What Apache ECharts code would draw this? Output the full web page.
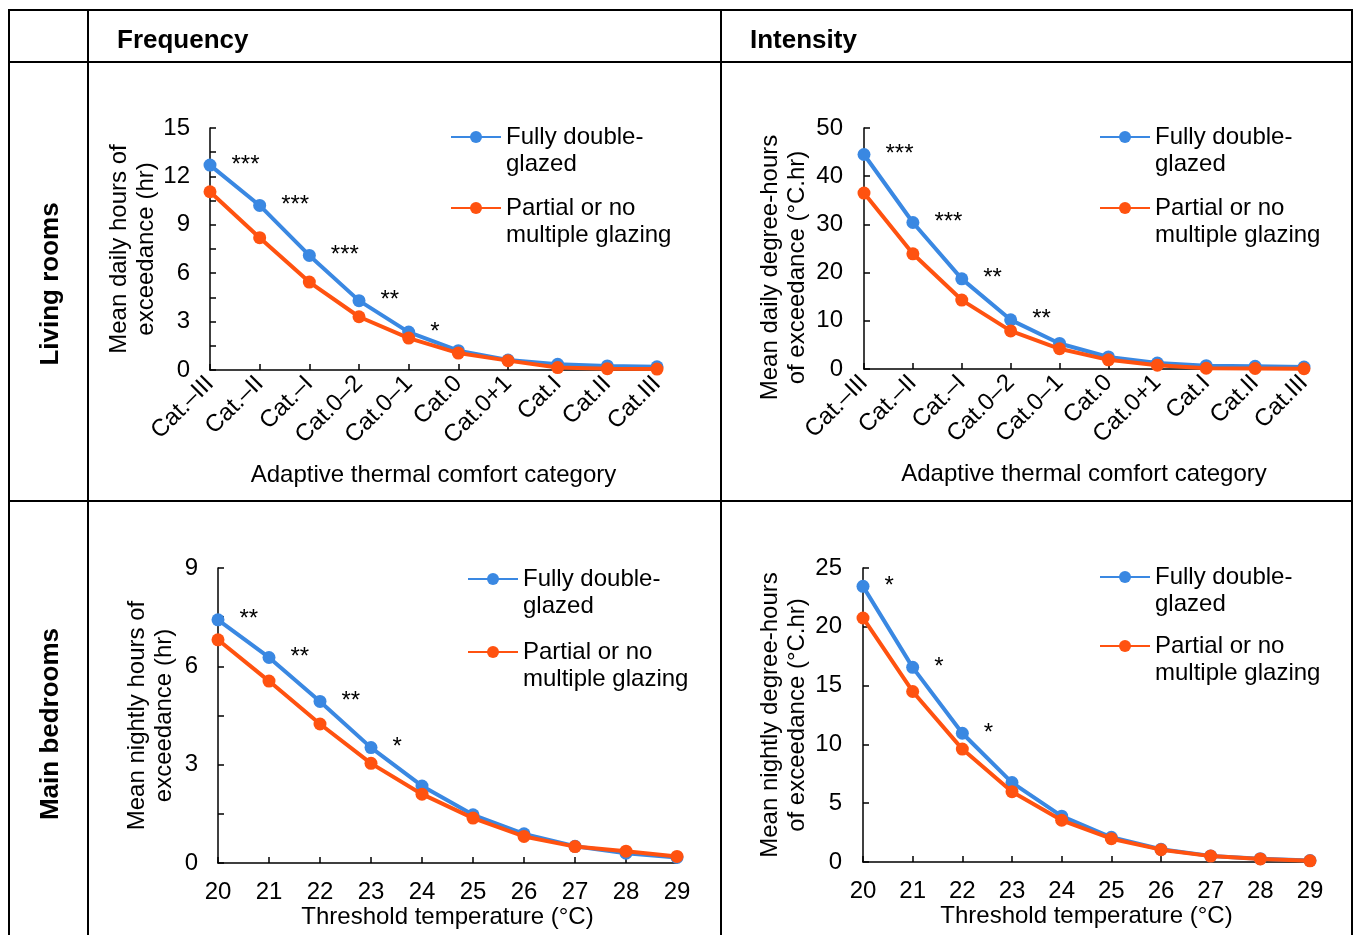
<!DOCTYPE html>
<html>
<head>
<meta charset="utf-8">
<script src="https://cdn.jsdelivr.net/npm/echarts@6/dist/echarts.min.js"></script>
<style>
html,body{margin:0;padding:0;background:#fff;}
#c{width:1354px;height:935px;}
</style>
</head>
<body>
<div id="c"></div>
<script>
// ---------- DATA ----------
const comfortCategories = ['Cat.–III','Cat.–II','Cat.–I','Cat.0–2','Cat.0–1','Cat.0','Cat.0+1','Cat.I','Cat.II','Cat.III'];
const thresholdTemps = ['20','21','22','23','24','25','26','27','28','29'];

const seriesNames = ['Fully double-glazed', 'Partial or no multiple glazing'];
const legendLabels = {'Fully double-glazed': 'Fully double-\nglazed', 'Partial or no multiple glazing': 'Partial or no\nmultiple glazing'};

// Living rooms - frequency (hr)
const livingFreqFull    = [12.7, 10.2, 7.1, 4.3, 2.35, 1.2, 0.62, 0.35, 0.25, 0.2];
const livingFreqPartial = [11.05, 8.2, 5.45, 3.3, 1.98, 1.05, 0.58, 0.15, 0.08, 0.06];
const livingFreqSig     = ['***','***','***','**','*','','','','',''];

// Living rooms - intensity (°C.hr)
const livingIntFull     = [44.5, 30.4, 18.7, 10.2, 5.3, 2.5, 1.25, 0.7, 0.55, 0.4];
const livingIntPartial  = [36.5, 23.9, 14.3, 7.9, 4.2, 1.9, 0.8, 0.15, 0.1, 0.05];
const livingIntSig      = ['***','***','**','**','','','','','',''];

// Main bedrooms - frequency (hr)
const bedFreqFull       = [7.42, 6.27, 4.93, 3.52, 2.35, 1.47, 0.89, 0.51, 0.3, 0.17];
const bedFreqPartial    = [6.81, 5.55, 4.24, 3.04, 2.1, 1.37, 0.81, 0.5, 0.36, 0.2];
const bedFreqSig        = ['**','**','**','*','','','','','',''];

// Main bedrooms - intensity (°C.hr)
const bedIntFull        = [23.44, 16.55, 10.95, 6.75, 3.9, 2.1, 1.08, 0.52, 0.28, 0.12];
const bedIntPartial     = [20.75, 14.5, 9.6, 5.98, 3.55, 1.98, 1.05, 0.5, 0.26, 0.1];
const bedIntSig         = ['*','*','*','','','','','','',''];

// ---------- STYLE ----------
const FONT = 'Liberation Sans, Arial, sans-serif';
const FS = 24;
const BLUE = '#3A88E2';
const ORANGE = '#FF5210';
const BLACK = '#000';

const chart = echarts.init(document.getElementById('c'), null, {renderer: 'canvas'});

const grids = [
  {left: 210, top: 128, width: 447, height: 242},
  {left: 864, top: 128, width: 440, height: 241},
  {left: 218, top: 568, width: 459, height: 295},
  {left: 863, top: 568, width: 447, height: 294}
];

function xAxisCfg(gi, cats, rotated, name, nameGap) {
  return {
    type: 'category', gridIndex: gi, data: cats, boundaryGap: false,
    axisLine: {show: true, lineStyle: {color: BLACK, width: 1.5}},
    axisTick: {show: true, inside: true, length: 6, interval: 0, lineStyle: {color: BLACK, width: 1.5}},
    axisLabel: {interval: 0, rotate: rotated ? 45 : 0, margin: rotated ? 10 : 17, fontSize: FS, color: BLACK, fontFamily: FONT},
    splitLine: {show: false},
    name: name, nameLocation: 'middle', nameGap: nameGap,
    nameTextStyle: {fontSize: FS, color: BLACK, fontFamily: FONT}
  };
}
function yAxisCfg(gi, max, interval, minor, name, nameGap, margin, namePad) {
  return {
    type: 'value', gridIndex: gi, min: 0, max: max, interval: interval,
    axisLine: {show: true, lineStyle: {color: BLACK, width: 1.5}},
    axisTick: {show: true, inside: true, length: 6, lineStyle: {color: BLACK, width: 1.5}},
    minorTick: {show: minor, splitNumber: 2, length: 6, lineStyle: {color: BLACK, width: 1.5}},
    splitLine: {show: false}, minorSplitLine: {show: false},
    axisLabel: {margin: margin, fontSize: FS, color: BLACK, fontFamily: FONT},
    name: name, nameLocation: 'middle', nameRotate: 90, nameGap: nameGap,
    nameTextStyle: {fontSize: FS, lineHeight: 27, color: BLACK, fontFamily: FONT, padding: namePad || 0}
  };
}
function lineSeries(gi, name, color, data, sig, z) {
  return {
    type: 'line', name: name, xAxisIndex: gi, yAxisIndex: gi, data: data,
    symbol: 'circle', symbolSize: 13, z: z,
    lineStyle: {color: color, width: 4}, itemStyle: {color: color},
    emphasis: {disabled: true},
    label: sig ? {show: true, position: 'right', distance: 15, color: BLACK, fontSize: FS, fontFamily: FONT,
                  formatter: p => sig[p.dataIndex]} : {show: false},
    animation: false
  };
}
function legendAt(name, left, cy) {
  return {
    data: [name], left: left, top: cy - 40.5, padding: 0,
    itemWidth: 50, itemHeight: 15, selectedMode: false,
    formatter: n => '\n' + legendLabels[n],
    textStyle: {fontSize: FS, lineHeight: 27, color: BLACK, fontFamily: FONT}
  };
}

const option = {
  animation: false,
  textStyle: {fontFamily: FONT},
  grid: grids,
  xAxis: [
    xAxisCfg(0, comfortCategories, true, 'Adaptive thermal comfort category', 93),
    xAxisCfg(1, comfortCategories, true, 'Adaptive thermal comfort category', 93),
    xAxisCfg(2, thresholdTemps, false, 'Threshold temperature (°C)', 41),
    xAxisCfg(3, thresholdTemps, false, 'Threshold temperature (°C)', 41)
  ],
  yAxis: [
    yAxisCfg(0, 15, 3, true, 'Mean daily hours of\nexceedance (hr)', 48, 20),
    yAxisCfg(1, 50, 10, false, 'Mean daily degree-hours\nof exceedance (°C.hr)', 53, 21, [0, 38, 0, 0]),
    yAxisCfg(2, 9, 3, true, 'Mean nightly hours of\nexceedance (hr)', 40, 20),
    yAxisCfg(3, 25, 5, false, 'Mean nightly degree-hours\nof exceedance (°C.hr)', 52, 21)
  ],
  legend: [
    legendAt(seriesNames[0], 450, 137), legendAt(seriesNames[1], 450, 208),
    legendAt(seriesNames[0], 1099, 137), legendAt(seriesNames[1], 1099, 208),
    legendAt(seriesNames[0], 467, 579), legendAt(seriesNames[1], 467, 652),
    legendAt(seriesNames[0], 1099, 577), legendAt(seriesNames[1], 1099, 646)
  ],
  series: [
    lineSeries(0, seriesNames[0], BLUE, livingFreqFull, livingFreqSig, 2),
    lineSeries(0, seriesNames[1], ORANGE, livingFreqPartial, null, 3),
    lineSeries(1, seriesNames[0], BLUE, livingIntFull, livingIntSig, 2),
    lineSeries(1, seriesNames[1], ORANGE, livingIntPartial, null, 3),
    lineSeries(2, seriesNames[0], BLUE, bedFreqFull, bedFreqSig, 2),
    lineSeries(2, seriesNames[1], ORANGE, bedFreqPartial, null, 3),
    lineSeries(3, seriesNames[0], BLUE, bedIntFull, bedIntSig, 2),
    lineSeries(3, seriesNames[1], ORANGE, bedIntPartial, null, 3)
  ],
  graphic: [
    {type: 'rect', shape: {x: 9, y: 10, width: 1343, height: 1000}, style: {fill: 'none', stroke: BLACK, lineWidth: 2}, silent: true},
    {type: 'line', shape: {x1: 88, y1: 10, x2: 88, y2: 1010}, style: {stroke: BLACK, lineWidth: 2}, silent: true},
    {type: 'line', shape: {x1: 721, y1: 10, x2: 721, y2: 1010}, style: {stroke: BLACK, lineWidth: 2}, silent: true},
    {type: 'line', shape: {x1: 9, y1: 62, x2: 1352, y2: 62}, style: {stroke: BLACK, lineWidth: 2}, silent: true},
    {type: 'line', shape: {x1: 9, y1: 501, x2: 1352, y2: 501}, style: {stroke: BLACK, lineWidth: 2}, silent: true},
    {type: 'text', x: 117, y: 41, style: {text: 'Frequency', font: 'bold 26px ' + FONT, fill: BLACK, align: 'left', verticalAlign: 'middle'}},
    {type: 'text', x: 750, y: 41, style: {text: 'Intensity', font: 'bold 26px ' + FONT, fill: BLACK, align: 'left', verticalAlign: 'middle'}},
    {type: 'text', x: 51, y: 284, rotation: Math.PI / 2, style: {text: 'Living rooms', font: 'bold 26px ' + FONT, fill: BLACK, align: 'center', verticalAlign: 'middle'}},
    {type: 'text', x: 51, y: 724, rotation: Math.PI / 2, style: {text: 'Main bedrooms', font: 'bold 26px ' + FONT, fill: BLACK, align: 'center', verticalAlign: 'middle'}}
  ]
};
chart.setOption(option);
</script>
</body>
</html>
